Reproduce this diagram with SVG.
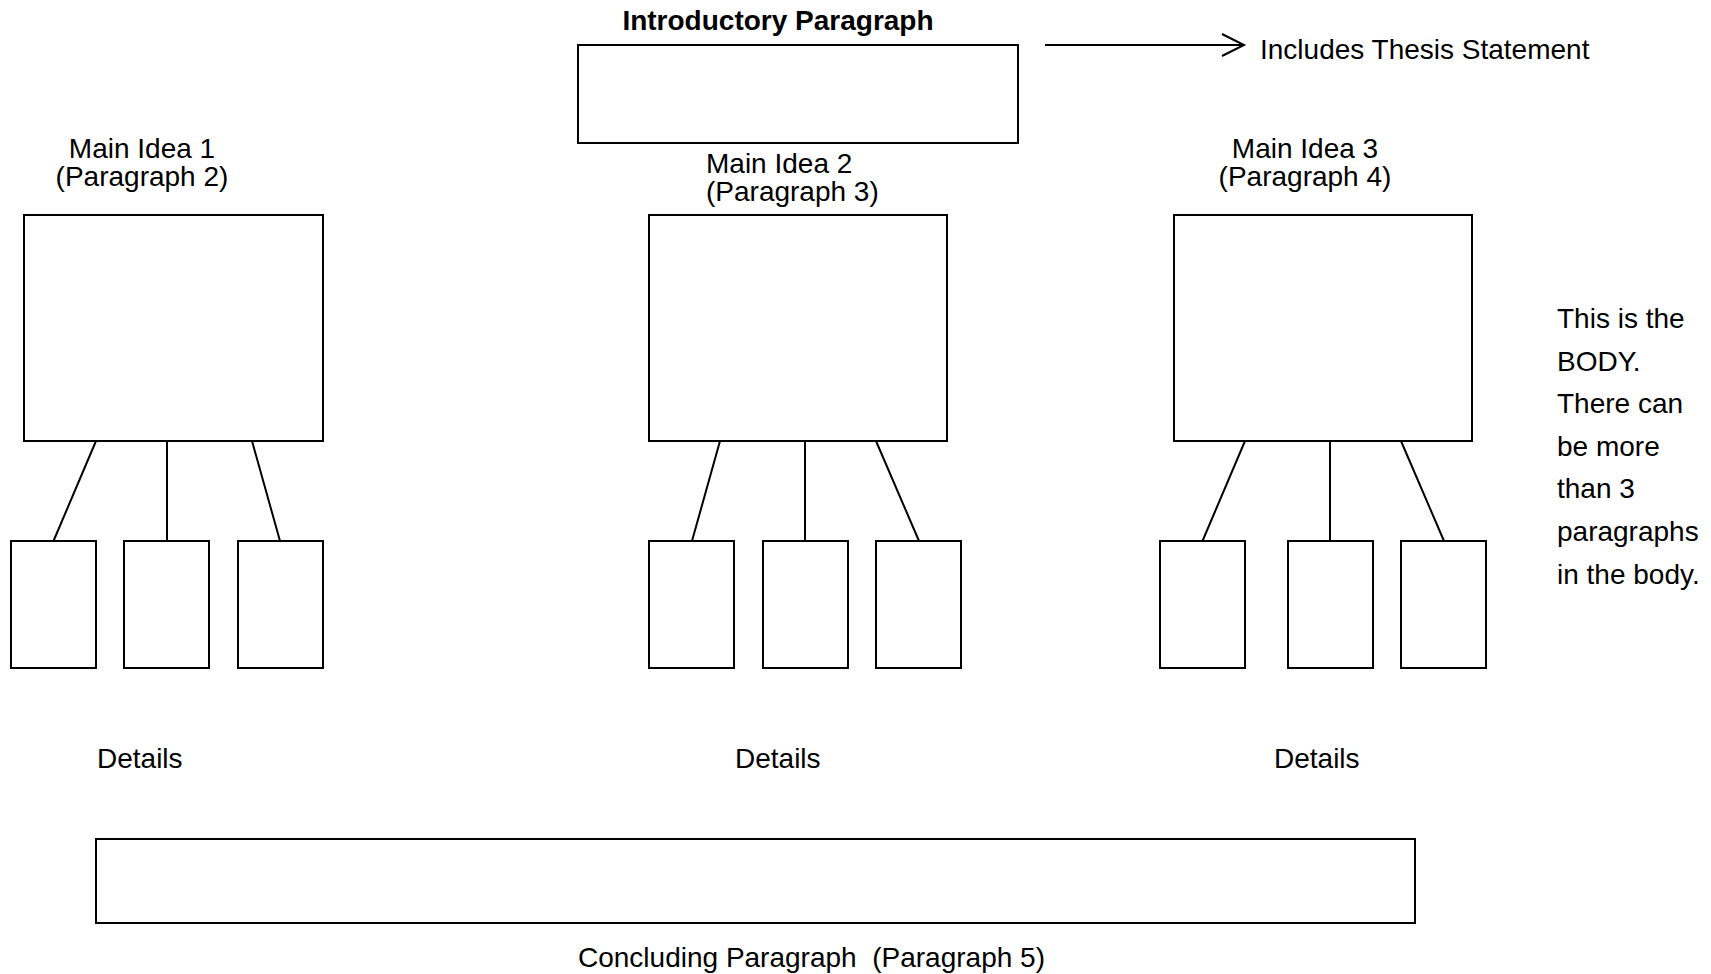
<svg xmlns="http://www.w3.org/2000/svg" width="1711" height="974" viewBox="0 0 1711 974">
<style>
.b{fill:#fff;stroke:#000;stroke-width:2}
.c{stroke:#000;stroke-width:2;fill:none}
text{font-family:"Liberation Sans",Arial,sans-serif;font-size:28px;fill:#000}
.m{text-anchor:middle}
.bold{font-weight:bold}
</style>
<rect width="1711" height="974" fill="#fff"/>
<g id="intro">
<text class="m bold" x="778" y="30">Introductory Paragraph</text>
<rect class="b" x="578" y="45" width="440" height="98"/>
</g>
<g id="thesis">
<text x="1260" y="59">Includes Thesis Statement</text>
</g>
<g id="main1">
<text class="m" x="142" y="158">Main Idea 1</text>
<text class="m" x="142" y="186">(Paragraph 2)</text>
<rect class="b" x="24" y="215" width="299" height="226"/>
</g>
<g id="d11"><rect class="b" x="11" y="541" width="85" height="127"/></g>
<g id="d12"><rect class="b" x="124" y="541" width="85" height="127"/></g>
<g id="d13"><rect class="b" x="238" y="541" width="85" height="127"/></g>
<g id="main2">
<text x="706" y="173">Main Idea 2</text>
<text x="706" y="201">(Paragraph 3)</text>
<rect class="b" x="649" y="215" width="298" height="226"/>
</g>
<g id="d21"><rect class="b" x="649" y="541" width="85" height="127"/></g>
<g id="d22"><rect class="b" x="763" y="541" width="85" height="127"/></g>
<g id="d23"><rect class="b" x="876" y="541" width="85" height="127"/></g>
<g id="main3">
<text class="m" x="1305" y="158">Main Idea 3</text>
<text class="m" x="1305" y="186">(Paragraph 4)</text>
<rect class="b" x="1174" y="215" width="298" height="226"/>
</g>
<g id="d31"><rect class="b" x="1160" y="541" width="85" height="127"/></g>
<g id="d32"><rect class="b" x="1288" y="541" width="85" height="127"/></g>
<g id="d33"><rect class="b" x="1401" y="541" width="85" height="127"/></g>
<g id="details">
<text x="97" y="768">Details</text>
<text x="735" y="768">Details</text>
<text x="1274" y="768">Details</text>
</g>
<g id="body-note">
<text x="1557" y="328">This is the</text>
<text x="1557" y="371">BODY.</text>
<text x="1557" y="413">There can</text>
<text x="1557" y="456">be more</text>
<text x="1557" y="498">than 3</text>
<text x="1557" y="541">paragraphs</text>
<text x="1557" y="584">in the body.</text>
</g>
<g id="conclusion">
<rect class="b" x="96" y="839" width="1319" height="84"/>
<text x="578" y="967" xml:space="preserve">Concluding Paragraph  (Paragraph 5)</text>
</g>
<g id="connectors">
<path class="c" d="M1045 45H1244M1222 34L1244 45L1222 56"/>
<path class="c" d="M96 441L53.5 541M167 441V541M252 441L280 541"/>
<path class="c" d="M720 441L692 541M805 441V541M876 441L919 541"/>
<path class="c" d="M1245 441L1202.5 541M1330 441V541M1401 441L1444 541"/>
</g>
</svg>
